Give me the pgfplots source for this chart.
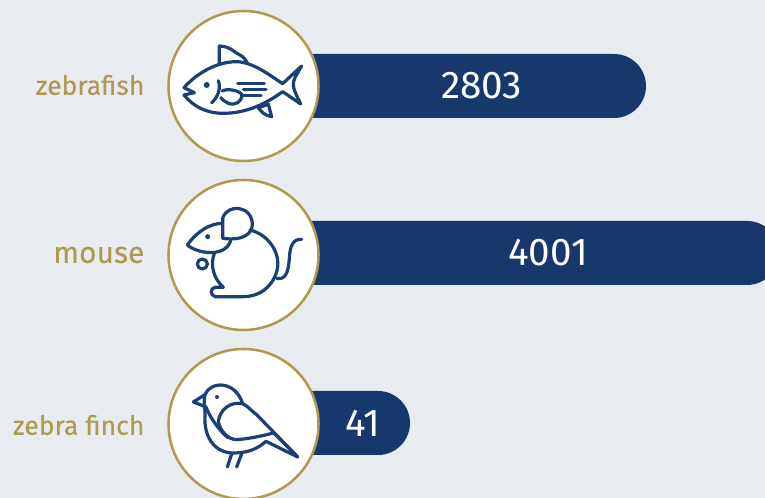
\documentclass[border=0pt]{standalone}
\usepackage{pgfplots}
\pgfplotsset{compat=1.18}
\usepackage{fontspec}
\setmainfont{Fira Sans}
\newfontfamily\labelfont[FakeBold=0.2]{Fira Sans}
\definecolor{bg}{HTML}{E8EBF0}
\definecolor{navy}{HTML}{17386C}
\definecolor{gold}{HTML}{B09A52}
\definecolor{icon}{HTML}{1A4076}
\tikzset{
  ic/.style={draw=icon,line width=2.4pt,line cap=round,line join=round},
  ring/.style={draw=gold,line width=1.9pt,fill=white},
  zoomfrom/.style 2 args={shift={({#1*0.75pt},{373.5pt-#2*0.75pt})},x=0.25pt,y=-0.25pt}
}
\begin{document}
\begin{tikzpicture}
\path[use as bounding box,clip] (0,0) rectangle (573.75pt,373.5pt);
\fill[bg] (0,0) rectangle (573.75pt,373.5pt);
\begin{axis}[
  at={(0,0)},anchor=south west,
  scale only axis,width=600pt,height=373.5pt,
  x coord trafo/.code={\pgfmathparse{#1<2803 ? 136.5+0.08545*#1 : 376+0.11102*(#1-2803)}},
  xmin=-4757.2,xmax=4190.1,
  ymin=0,ymax=498,y dir=reverse,
  axis line style={draw=none},major tick length=0pt,
  xtick=\empty,
  ytick={85,255,425},
  yticklabels={zebrafish,{\fontsize{22.5}{22.5}\selectfont mouse},zebra finch},
  yticklabel style={anchor=east,inner xsep=0pt,xshift=108.5pt,text=gold,font=\labelfont\fontsize{19.9}{19.9}\selectfont},
  xbar,bar shift=0pt,bar width=48pt,
  point meta=explicit symbolic,
  nodes near coords,
  every node near coord/.append style={white,anchor=center,font=\fontsize{29}{29}\selectfont},
]
\addplot[fill=navy,draw=none,rounded corners=24pt,every node near coord/.append style={xshift=-123.4pt}]
  table[x=v,y=y,meta=v] {
y v
86 2803
};
\addplot[fill=navy,draw=none,rounded corners=24pt,every node near coord/.append style={xshift=-173.25pt}]
  table[x=v,y=y,meta=v] {
y v
253 4001
};
\addplot[fill=navy,draw=none,rounded corners=24pt,every node near coord/.append style={xshift=-35.4pt}]
  table[x=v,y=y,meta=v] {
y v
423 41
};
\end{axis}
% circles
\begin{scope}[x=0.75pt,y=-0.75pt,yshift=373.5pt]
\filldraw[ring] (243.5,86) circle (75);
\filldraw[ring] (243.5,255) circle (75);
\filldraw[ring] (243.5,424) circle (75);
\end{scope}
% fish
\begin{scope}[zoomfrom={160}{5}]
\draw[ic] (72,248) .. controls (110,205) and (170,170) .. (230,170)
  .. controls (280,172) and (325,208) .. (368,236) -- (425,183)
  .. controls (412,205) and (398,225) .. (400,240) .. controls (400,255) and (412,275) .. (422,297)
  -- (368,260) .. controls (320,295) and (260,325) .. (190,325)
  .. controls (140,325) and (100,305) .. (72,270) -- (103,263) -- cycle;
\draw[ic] (178,175) -- (178,123) .. controls (215,125) and (225,145) .. (240,150) .. controls (250,155) and (258,165) .. (262,175);
\draw[ic] (295,308) -- (325,298) -- (335,335) .. controls (315,332) and (303,320) .. (295,308);
\fill[icon] (140,240) circle (9);
\draw[ic] (175,227) .. controls (183,250) and (175,275) .. (155,293);
\draw[ic] (187,258) .. controls (200,250) and (235,255) .. (245,268) .. controls (248,290) and (225,303) .. (205,295) .. controls (195,290) and (188,285) .. (182,278);
\draw[ic] (233,236) -- (313,236) (250,254) -- (318,254) (250,272) -- (303,272);
\end{scope}
% mouse
\begin{scope}[zoomfrom={160}{175}]
\draw[ic] (188,190) -- (188,130) .. controls (195,105) and (225,95) .. (245,103) .. controls (275,110) and (285,150) .. (270,170) .. controls (255,190) and (225,195) .. cycle;
\draw[ic] (188,145) .. controls (150,145) and (110,170) .. (82,210) .. controls (110,235) and (195,250) .. (212,197);
\draw[ic] (270,165) .. controls (330,180) and (365,240) .. (350,290) .. controls (335,340) and (295,365) .. (250,365) -- (165,365) .. controls (150,360) and (150,340) .. (165,337) -- (190,337) .. controls (160,310) and (150,270) .. (163,235);
\fill[icon] (143,185) circle (7.5);
\draw[ic] (127,267) circle (15);
\draw[ic] (350,310) .. controls (375,315) and (385,295) .. (388,250) .. controls (390,210) and (400,192) .. (425,193);
\end{scope}
% bird
\begin{scope}[zoomfrom={160}{343}]
\draw[ic] (135,155) -- (100,177) -- (138,192) (135,155) .. controls (150,115) and (225,110) .. (248,182);
\draw[ic] (135,155) .. controls (130,175) and (135,190) .. (135,215) .. controls (130,290) and (170,330) .. (220,330) .. controls (260,330) and (290,320) .. (318,295) -- (413,342) -- (340,268);
\draw[ic] (248,182) .. controls (210,175) and (180,200) .. (175,235) .. controls (180,265) and (205,290) .. (230,290) .. controls (270,287) and (310,278) .. (340,270);
\draw[ic] (248,182) .. controls (265,190) and (275,205) .. (290,215) -- (413,342);
\draw[ic] (138,192) .. controls (150,225) and (180,265) .. (205,285);
\draw[ic] (215,333) -- (202,372) (245,333) -- (230,372);
\fill[icon] (171,162) circle (6);
\end{scope}
\end{tikzpicture}
\end{document}
